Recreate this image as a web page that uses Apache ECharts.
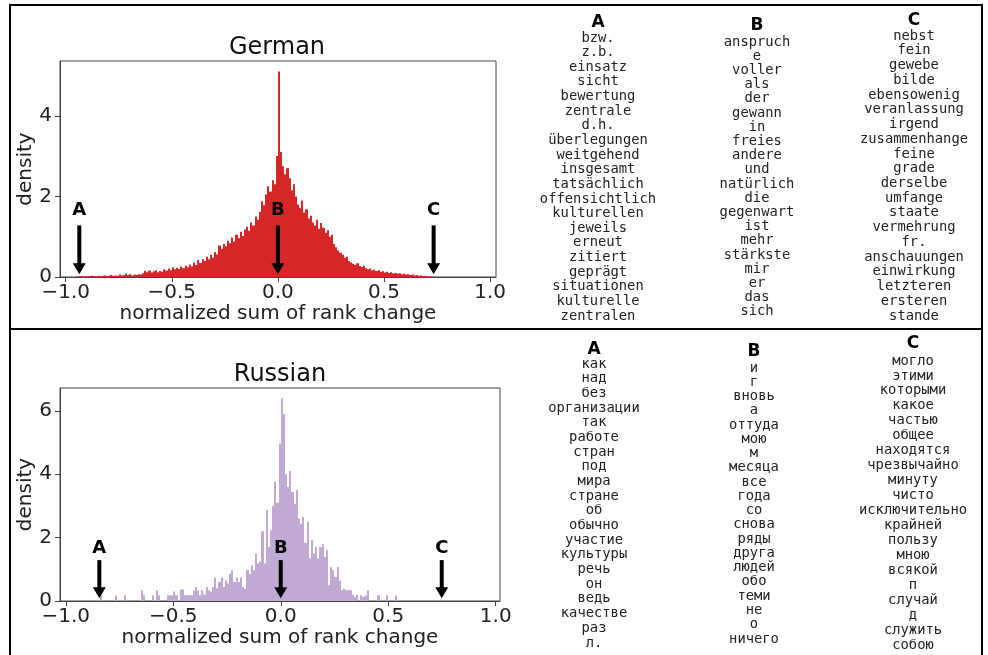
<!DOCTYPE html>
<html>
<head>
<meta charset="utf-8">
<script src="https://cdn.jsdelivr.net/npm/echarts@6/dist/echarts.min.js"></script>
<style>
  html, body { margin: 0; padding: 0; background: #fff; }
  #chart { width: 988px; height: 655px; }
</style>
</head>
<body>
<div id="chart"></div>
<script>
// histogram bins (density)
const germanBinStart = -0.95;
const germanBinWidth = 0.01;
const germanDensity = [
  0.01, 0.02, 0.02, 0.01, 0.02, 0.01, 0.02, 0.03, 0.02, 0.02,
  0.03, 0.02, 0.03, 0.04, 0.02, 0.03, 0.05, 0.03, 0.04, 0.03,
  0.06, 0.04, 0.05, 0.08, 0.05, 0.07, 0.04, 0.06, 0.05, 0.07,
  0.06, 0.09, 0.15, 0.12, 0.16, 0.11, 0.14, 0.17, 0.12, 0.15,
  0.13, 0.19, 0.16, 0.21, 0.17, 0.24, 0.19, 0.23, 0.20, 0.26,
  0.22, 0.28, 0.24, 0.31, 0.26, 0.36, 0.30, 0.42, 0.35, 0.44,
  0.40, 0.50, 0.44, 0.55, 0.48, 0.62, 0.56, 0.78, 0.70, 0.82,
  0.76, 0.90, 0.84, 0.98, 0.88, 1.05, 0.96, 1.12, 1.02, 1.18,
  1.25, 1.15, 1.35, 1.28, 1.50, 1.42, 1.62, 1.88, 1.78, 2.05,
  2.25, 2.12, 2.40, 2.30, 3.00, 5.10, 3.10, 2.75, 2.55, 2.70,
  2.45, 2.15, 2.30, 2.00, 1.80, 1.72, 1.90, 1.60, 1.68, 1.45,
  1.52, 1.35, 1.28, 1.42, 1.20, 1.34, 1.22, 1.10, 1.16, 1.00,
  1.05, 0.82, 0.74, 0.66, 0.60, 0.55, 0.48, 0.50, 0.40, 0.36,
  0.33, 0.30, 0.34, 0.27, 0.25, 0.28, 0.22, 0.19, 0.21, 0.17,
  0.18, 0.15, 0.17, 0.13, 0.14, 0.11, 0.13, 0.10, 0.12, 0.09,
  0.10, 0.08, 0.09, 0.07, 0.08, 0.06, 0.07, 0.05, 0.06, 0.04,
  0.05, 0.03, 0.04, 0.02, 0.03, 0.02, 0.01, 0.01
];

const russianBinStart = -0.84;
const russianBinWidth = 0.01;
const russianDensity = [
  0.18, 0, 0, 0, 0, 0, 0, 0.18, 0, 0,
  0, 0.18, 0, 0, 0, 0, 0, 0, 0, 0.34,
  0.18, 0, 0, 0, 0.18, 0, 0.34, 0.18, 0, 0,
  0, 0.18, 0.18, 0.18, 0.30, 0.18, 0, 0.36, 0.36, 0.18,
  0.18, 0.18, 0.18, 0.32, 0.44, 0.34, 0.18, 0.34, 0.20, 0.44,
  0.34, 0.30, 0.44, 0.74, 0.40, 0.60, 0.74, 0.44, 0.65, 0.55,
  0.86, 0.97, 0.60, 0.74, 0.60, 0.74, 0.44, 0.39, 0.98, 0.85,
  1.13, 0.97, 1.50, 1.18, 1.25, 2.20, 1.18, 2.87, 1.70, 2.23,
  3.00, 3.76, 3.10, 4.97, 6.40, 5.90, 4.00, 3.60, 4.10, 3.44,
  3.07, 3.50, 2.60, 2.44, 2.65, 1.84, 2.50, 1.34, 1.92, 1.50,
  1.70, 1.34, 1.70, 1.80, 1.39, 1.60, 0.50, 1.07, 0.98, 0.76,
  1.07, 0.65, 0.34, 0.39, 0.34, 0.34, 0.34, 0.20, 0.13, 0.20,
  0, 0.18, 0.13, 0.18, 0.34, 0, 0, 0, 0, 0.18,
  0, 0, 0, 0.18, 0, 0, 0, 0.18, 0, 0
];

// arrow markers: x position, letter height, shaft top, tip (density units)
const arrowLetters = ['A', 'B', 'C'];
const germanArrowX = [-0.936, 0.0, 0.734];
const russianArrowX = [-0.844, 0.0, 0.749];
const germanArrowY = [1.66, 1.28, 0.07];
const russianArrowY = [1.67, 1.29, 0.09];

// word lists
const germanA = ['bzw.', 'z.b.', 'einsatz', 'sicht', 'bewertung', 'zentrale', 'd.h.', 'überlegungen', 'weitgehend', 'insgesamt',
  'tatsächlich', 'offensichtlich', 'kulturellen', 'jeweils', 'erneut', 'zitiert', 'geprägt', 'situationen', 'kulturelle', 'zentralen'];
const germanB = ['anspruch', 'e', 'voller', 'als', 'der', 'gewann', 'in', 'freies', 'andere', 'und',
  'natürlich', 'die', 'gegenwart', 'ist', 'mehr', 'stärkste', 'mir', 'er', 'das', 'sich'];
const germanC = ['nebst', 'fein', 'gewebe', 'bilde', 'ebensowenig', 'veranlassung', 'irgend', 'zusammenhange', 'feine', 'grade',
  'derselbe', 'umfange', 'staate', 'vermehrung', 'fr.', 'anschauungen', 'einwirkung', 'letzteren', 'ersteren', 'stande'];
const russianA = ['как', 'над', 'без', 'организации', 'так', 'работе', 'стран', 'под', 'мира', 'стране',
  'об', 'обычно', 'участие', 'культуры', 'речь', 'он', 'ведь', 'качестве', 'раз', 'л.'];
const russianB = ['и', 'г', 'вновь', 'а', 'оттуда', 'мою', 'м', 'месяца', 'все', 'года',
  'со', 'снова', 'ряды', 'друга', 'людей', 'обо', 'теми', 'не', 'о', 'ничего'];
const russianC = ['могло', 'этими', 'которыми', 'какое', 'частью', 'общее', 'находятся', 'чрезвычайно', 'минуту', 'чисто',
  'исключительно', 'крайней', 'пользу', 'мною', 'всякой', 'п', 'случай', 'д', 'служить', 'собою'];

(function () {
  const FONT = '"DejaVu Sans", sans-serif';
  const MONO = '"DejaVu Sans Mono", monospace';
  const chart = echarts.init(document.getElementById('chart'), null, { renderer: 'canvas' });

  function bins(start, width, values) {
    return values.map((v, i) => [start + i * width, v, width]);
  }

  function histItem(color) {
    return function (params, api) {
      const x0 = api.value(0), h = api.value(1), w = api.value(2);
      if (!h) return null;
      const p0 = api.coord([x0, h]);
      const p1 = api.coord([x0 + w, 0]);
      const left = Math.round(p0[0]);
      const right = Math.max(left + 1, Math.round(p1[0]));
      return {
        type: 'rect',
        shape: { x: left, y: p0[1], width: right - left, height: p1[1] - p0[1] },
        style: { fill: color }
      };
    };
  }

  function arrowItem(params, api) {
    const x = api.value(0);
    const letter = api.coord([x, api.value(1)]);
    const top = api.coord([x, api.value(2)]);
    const tip = api.coord([x, api.value(3)]);
    const headH = 11, headW = 13, shaftW = 4;
    return {
      type: 'group',
      children: [
        { type: 'rect', shape: { x: top[0] - shaftW / 2, y: top[1], width: shaftW, height: tip[1] - headH - top[1] + 1 }, style: { fill: '#000' } },
        { type: 'polygon', shape: { points: [[tip[0] - headW / 2, tip[1] - headH], [tip[0] + headW / 2, tip[1] - headH], [tip[0], tip[1]]] }, style: { fill: '#000' } },
        { type: 'text', x: letter[0], y: letter[1], style: { text: arrowLetters[params.dataIndex], align: 'center', verticalAlign: 'middle', font: 'bold 18px ' + FONT, fill: '#000' } }
      ]
    };
  }

  function arrows(xs, ys) {
    return xs.map(x => [x, ys[0], ys[1], ys[2]]);
  }

  function xAxis(gridIndex, min, max) {
    return {
      type: 'value', gridIndex, min, max,
      axisLine: { show: true, onZero: false, lineStyle: { color: '#444', width: 1 } },
      axisTick: { show: true, length: 5, lineStyle: { color: '#444' } },
      axisLabel: {
        fontSize: 20, color: '#222', fontFamily: FONT, margin: 6,
        showMinLabel: false, showMaxLabel: false,
        formatter: v => v.toFixed(1).replace('-', '\u2212')
      },
      splitLine: { show: false },
      name: 'normalized sum of rank change', nameLocation: 'middle', nameGap: 27,
      nameTextStyle: { fontSize: 20, color: '#222', fontFamily: FONT }
    };
  }

  function yAxis(gridIndex, max) {
    return {
      type: 'value', gridIndex, min: 0, max, interval: 2,
      axisLine: { show: true, onZero: false, lineStyle: { color: '#444', width: 1 } },
      axisTick: { show: true, length: 5, lineStyle: { color: '#444' } },
      axisLabel: { fontSize: 20, color: '#222', fontFamily: FONT, margin: 8, showMaxLabel: false },
      splitLine: { show: false },
      name: 'density', nameLocation: 'middle', nameGap: 22,
      nameTextStyle: { fontSize: 20, color: '#222', fontFamily: FONT }
    };
  }

  function wordColumn(header, words, cx, headerY, firstY, step) {
    const els = [{
      type: 'text', x: cx, y: headerY,
      style: { text: header, align: 'center', verticalAlign: 'middle', font: 'bold 17px ' + FONT, fill: '#000' }
    }];
    words.forEach((w, i) => {
      els.push({
        type: 'text', x: cx, y: firstY + i * step,
        style: { text: w, align: 'center', verticalAlign: 'middle', font: '13.8px ' + MONO, fill: '#222' }
      });
    });
    return els;
  }

  const graphics = [
    { type: 'rect', shape: { x: 10, y: 5, width: 972, height: 670 }, style: { fill: 'none', stroke: '#000', lineWidth: 2 }, silent: true },
    { type: 'line', shape: { x1: 10, y1: 329, x2: 982, y2: 329 }, style: { stroke: '#000', lineWidth: 2 }, silent: true }
  ]
    .concat(wordColumn('A', germanA, 598, 23, 38, 14.63))
    .concat(wordColumn('B', germanB, 757, 26, 42, 14.2))
    .concat(wordColumn('C', germanC, 914, 21, 36, 14.74))
    .concat(wordColumn('A', russianA, 594, 350, 364, 14.68))
    .concat(wordColumn('B', russianB, 754, 352, 368, 14.26))
    .concat(wordColumn('C', russianC, 913, 344, 361, 14.95));

  chart.setOption({
    animation: false,
    backgroundColor: '#fff',
    title: [
      { text: 'German', left: 277, top: 36, textAlign: 'center', padding: 0, textStyle: { fontSize: 24, fontWeight: 'normal', color: '#111', fontFamily: FONT } },
      { text: 'Russian', left: 280, top: 363, textAlign: 'center', padding: 0, textStyle: { fontSize: 24, fontWeight: 'normal', color: '#111', fontFamily: FONT } }
    ],
    grid: [
      { left: 60, top: 61, width: 436, height: 216, show: true, borderColor: '#444', borderWidth: 1, outerBoundsMode: 'none', containLabel: false },
      { left: 60, top: 388, width: 440, height: 213, show: true, borderColor: '#444', borderWidth: 1, outerBoundsMode: 'none', containLabel: false }
    ],
    xAxis: [xAxis(0, -1.027, 1.028), xAxis(1, -1.027, 1.02)],
    yAxis: [yAxis(0, 5.36), yAxis(1, 6.72)],
    series: [
      { type: 'custom', xAxisIndex: 0, yAxisIndex: 0, renderItem: histItem('#d62728'), data: bins(germanBinStart, germanBinWidth, germanDensity), clip: true },
      { type: 'custom', xAxisIndex: 1, yAxisIndex: 1, renderItem: histItem('#c0aad4'), data: bins(russianBinStart, russianBinWidth, russianDensity), clip: true },
      { type: 'custom', xAxisIndex: 0, yAxisIndex: 0, renderItem: arrowItem, data: arrows(germanArrowX, germanArrowY), z: 5 },
      { type: 'custom', xAxisIndex: 1, yAxisIndex: 1, renderItem: arrowItem, data: arrows(russianArrowX, russianArrowY), z: 5 }
    ],
    graphic: graphics
  });

  window.addEventListener('resize', () => chart.resize());
})();
</script>
</body>
</html>
